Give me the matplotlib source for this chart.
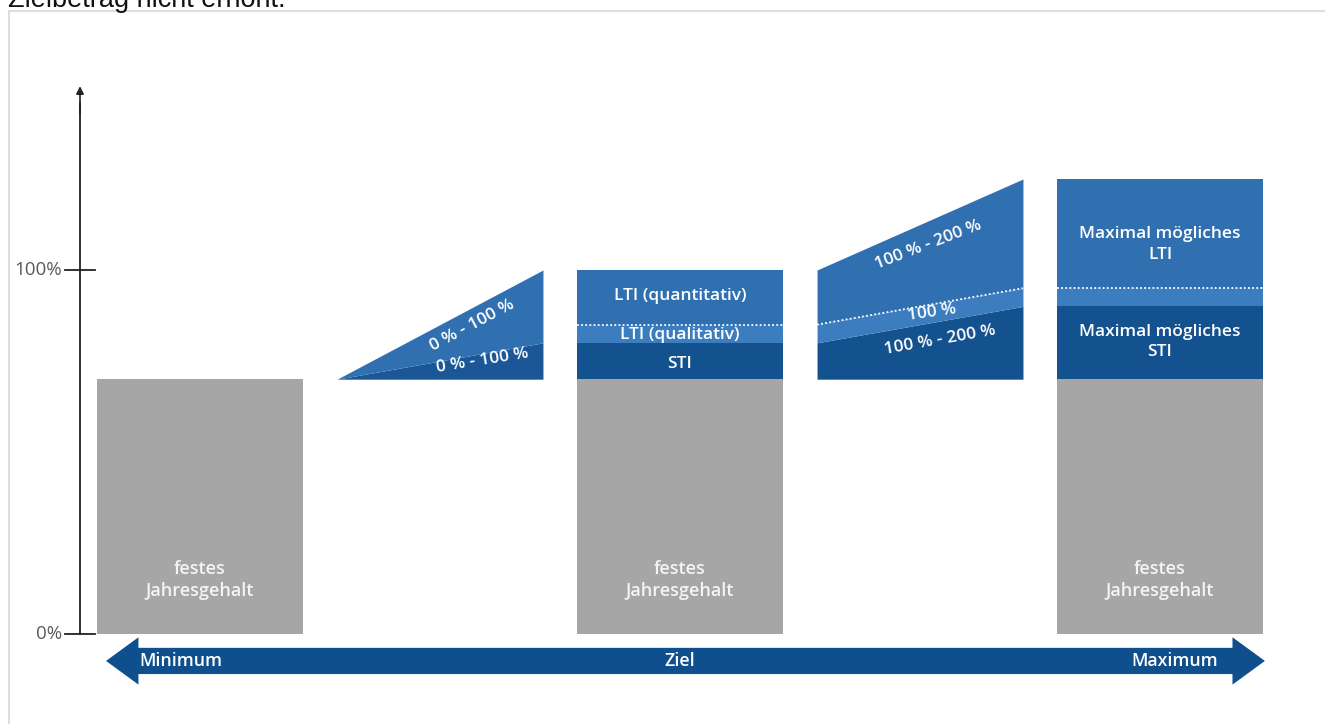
import matplotlib
matplotlib.use("Agg")
import matplotlib.pyplot as plt
from matplotlib.patches import Polygon, Rectangle

W, H, DPI = 1325, 724, 100

# ---------------- data (percent of target compensation) ----------------
stage_labels = ["Minimum", "Ziel", "Maximum"]
bar_positions = [0, 2, 4]
fixed_salary = [70, 70, 70]
fixed_label = "festes\nJahresgehalt"

# stacked variable components for the "Ziel" and "Maximum" bars
var_positions = [2, 4]
sti_values = [10, 20]
band_values = [5, 5]          # LTI (qualitativ) / lighter LTI band
lti_values = [15, 30]

# transition shapes: values at left / right edge
tri_position = 1
tri_sti_top = [70, 80]
tri_total = [70, 100]
trans_position = 3
trans_sti_top = [80, 90]
trans_band_top = [85, 95]
trans_total = [100, 125]

y_ticks = [0, 100]
y_tick_labels = ["0%", "100%"]

# ---------------- style ----------------
GRAY = "#a6a6a6"
LTI_C = "#3170b0"
BAND_C = "#3b7dbf"
STI_C = "#13518f"
TRI_DARK = "#1b5797"
ARROW_C = "#0f4f8e"
FONT = "Open Sans"
WIDTH = 0.858

fig = plt.figure(figsize=(W / DPI, H / DPI), dpi=DPI)
fig.patch.set_facecolor("white")
ax = fig.add_axes([0, 0, 1, 1])
ax.set_xlim(-200 / 240, 1125 / 240)
ax.set_ylim(-90 / 3.64, 634 / 3.64)
ax.axis("off")

# screenshot frame and cut-off caption
fig.add_artist(Rectangle((9 / W, -0.1), 2, (H - 11) / H + 0.1, transform=fig.transFigure,
                         fill=False, ec="#dedede", lw=1.5))
fig.text(8 / W, 1 - 7 / H, "Zielbetrag nicht erhöht.", va="baseline", ha="left",
         fontsize=19.5, family="Liberation Sans", color="#111111")

# fixed salary bars
ax.bar(bar_positions, fixed_salary, width=WIDTH, color=GRAY, zorder=2)
for x, v in zip(bar_positions, fixed_salary):
    ax.text(x, v * 0.212, fixed_label, ha="center", va="center", color="#f4f4f4",
            fontsize=13, family=FONT, weight="semibold", linespacing=1.3, zorder=5)

# stacked variable parts
bottoms = [fixed_salary[i] for i in (1, 2)]
ax.bar(var_positions, sti_values, bottom=bottoms, width=WIDTH, color=STI_C, zorder=2)
b2 = [b + s for b, s in zip(bottoms, sti_values)]
ax.bar(var_positions, band_values, bottom=b2, width=WIDTH, color=BAND_C, zorder=2)
b3 = [b + s for b, s in zip(b2, band_values)]
ax.bar(var_positions, lti_values, bottom=b3, width=WIDTH, color=LTI_C, zorder=2)
for x, y in zip(var_positions, b3):
    ax.plot([x - WIDTH / 2, x + WIDTH / 2], [y, y], color="white", lw=1.3,
            ls=(0, (1, 1.3)), zorder=4)

# triangle (Minimum -> Ziel)
tx = [tri_position - WIDTH / 2, tri_position + WIDTH / 2]
ax.fill_between(tx, [70, 70], tri_sti_top, color=TRI_DARK, lw=0, zorder=2)
ax.fill_between(tx, tri_sti_top, tri_total, color=LTI_C, lw=0, zorder=2)

# transition (Ziel -> Maximum)
sx = [trans_position - WIDTH / 2, trans_position + WIDTH / 2]
ax.fill_between(sx, [70, 70], trans_sti_top, color=STI_C, lw=0, zorder=2)
ax.fill_between(sx, trans_sti_top, trans_band_top, color=BAND_C, lw=0, zorder=2)
ax.fill_between(sx, trans_band_top, trans_total, color=LTI_C, lw=0, zorder=2)
ax.plot(sx, trans_band_top, color="white", lw=1.3, ls=(0, (1, 1.3)), zorder=4)

# labels inside the variable shapes
lab = dict(ha="center", va="center", color="white", family=FONT, fontsize=12.5,
           weight="semibold", zorder=6, rotation_mode="anchor")
ax.text(1.133, 84.6, "0 % - 100 %", rotation=28, **lab)
ax.text(1.175, 75.0, "0 % - 100 %", rotation=9, **lab)
ax.text(2, 92.9, "LTI (quantitativ)", **lab)
ax.text(2, 82.1, "LTI (qualitativ)", **lab)
ax.text(2, 74.2, "STI", **lab)
ax.text(3.033, 106.9, "100 % - 200 %", rotation=21, **lab)
ax.text(3.05, 88.2, "100 %", rotation=8, **lab)
ax.text(3.083, 80.8, "100 % - 200 %", rotation=10, **lab)
ax.text(4, 107.1, "Maximal mögliches\nLTI", linespacing=1.4, **lab)
ax.text(4, 80.2, "Maximal mögliches\nSTI", linespacing=1.4, **lab)

# y axis
axis_x = -0.5
ax.plot([axis_x, axis_x], [0, 146], color="#222222", lw=1.3, zorder=3)
ax.annotate("", xy=(axis_x, 150.5), xytext=(axis_x, 143),
            arrowprops=dict(arrowstyle="-|>", color="#222222", lw=1.2,
                            mutation_scale=11, shrinkA=0, shrinkB=0))
for yv, yl in zip(y_ticks, y_tick_labels):
    ax.plot([axis_x - 0.0625, axis_x + 0.0625], [yv, yv], color="#222222", lw=1.3)
    ax.text(axis_x - 0.075, yv, yl, ha="right", va="center", fontsize=13.5,
            family=FONT, color="#5a5a5a")

# bottom double arrow
left_tip = bar_positions[0] - WIDTH / 2 + 0.0375
right_tip = bar_positions[-1] + WIDTH / 2 + 0.008
head_len, body_h, head_h, yc = 0.135, 3.6, 6.5, -7.4
arrow_pts = [
    (left_tip, yc), (left_tip + head_len, yc + head_h), (left_tip + head_len, yc + body_h),
    (right_tip - head_len, yc + body_h), (right_tip - head_len, yc + head_h), (right_tip, yc),
    (right_tip - head_len, yc - head_h), (right_tip - head_len, yc - body_h),
    (left_tip + head_len, yc - body_h), (left_tip + head_len, yc - head_h),
]
ax.add_patch(Polygon(arrow_pts, closed=True, color=ARROW_C, lw=0, zorder=3))
atxt = dict(va="center", color="white", family=FONT, fontsize=12.8, weight="semibold", zorder=6)
ax.text(left_tip + 0.137, yc, stage_labels[0], ha="left", **atxt)
ax.text(bar_positions[1], yc, stage_labels[1], ha="center", **atxt)
ax.text(right_tip - 0.195, yc, stage_labels[2], ha="right", **atxt)

fig.savefig("out.png", dpi=DPI)
